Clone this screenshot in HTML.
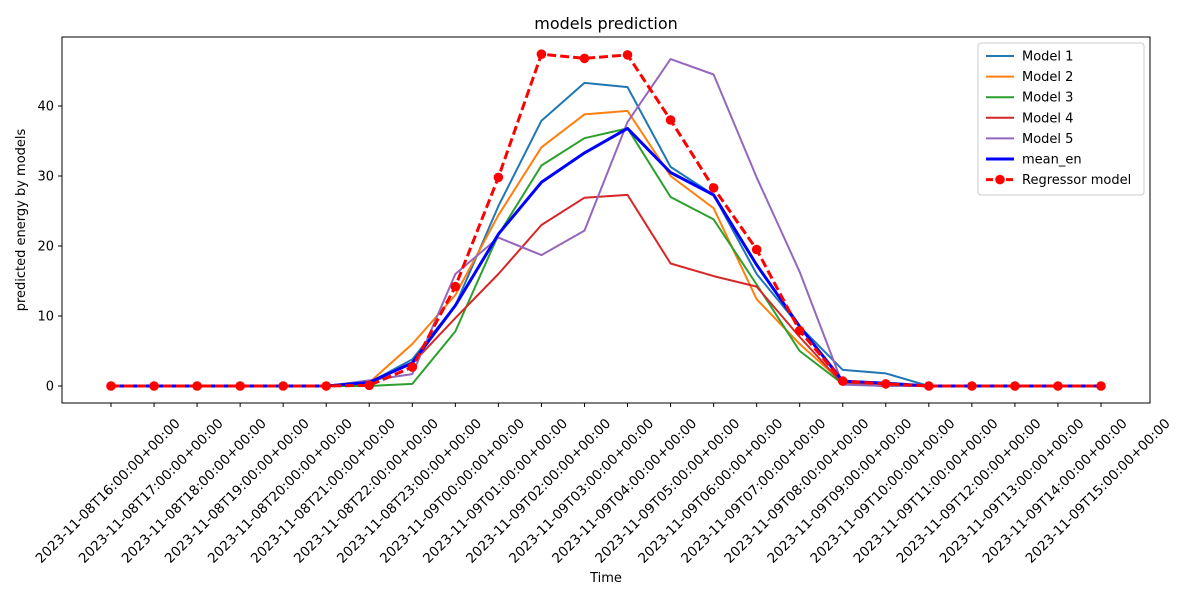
<!DOCTYPE html>
<html><head><meta charset="utf-8"><style>
body{margin:0;background:#fff;}
svg{display:block;font-family:"DejaVu Sans","Liberation Sans",sans-serif;}
</style></head><body>
<svg id="chart" width="1200" height="600" viewBox="0 0 1200 600">
<rect x="0" y="0" width="1200" height="600" fill="#fff"/>
<text x="606" y="29" text-anchor="middle" font-size="16">models prediction</text>
<text x="606" y="582" text-anchor="middle" font-size="13">Time</text>
<text transform="translate(25,220) rotate(-90)" text-anchor="middle" font-size="13">predicted energy by models</text>
<g id="plot"></g>
<rect x="62" y="37" width="1088" height="366" fill="none" stroke="#000" stroke-width="1"/>
<g id="legend"></g>
</svg>
<script>
const categories=["2023-11-08T16:00:00+00:00","2023-11-08T17:00:00+00:00","2023-11-08T18:00:00+00:00","2023-11-08T19:00:00+00:00","2023-11-08T20:00:00+00:00","2023-11-08T21:00:00+00:00","2023-11-08T22:00:00+00:00","2023-11-08T23:00:00+00:00","2023-11-09T00:00:00+00:00","2023-11-09T01:00:00+00:00","2023-11-09T02:00:00+00:00","2023-11-09T03:00:00+00:00","2023-11-09T04:00:00+00:00","2023-11-09T05:00:00+00:00","2023-11-09T06:00:00+00:00","2023-11-09T07:00:00+00:00","2023-11-09T08:00:00+00:00","2023-11-09T09:00:00+00:00","2023-11-09T10:00:00+00:00","2023-11-09T11:00:00+00:00","2023-11-09T12:00:00+00:00","2023-11-09T13:00:00+00:00","2023-11-09T14:00:00+00:00","2023-11-09T15:00:00+00:00"];
const model1=[0,0,0,0,0,0,0.5,3.8,11.5,25.7,37.9,43.3,42.7,31.3,27.3,16.0,8.5,2.3,1.8,0,0,0,0,0];
const model2=[0,0,0,0,0,0,0.5,6.0,13.0,24.4,34.1,38.8,39.3,30.0,25.4,12.4,6.0,0.5,0.2,0,0,0,0,0];
const model3=[0,0,0,0,0,0,0,0.3,7.8,21.6,31.5,35.4,36.8,27.0,23.8,14.5,5.0,0.3,0,0,0,0,0,0];
const model4=[0,0,0,0,0,0,0.5,3.2,9.7,16.0,23.0,26.9,27.3,17.5,15.7,14.2,7.0,0.3,0,0,0,0,0,0];
const model5=[0,0,0,0,0,0,0.8,1.7,16.0,21.2,18.7,22.2,37.7,46.7,44.5,29.8,16.3,0.2,0,0,0,0,0,0];
const meanEn=[0,0,0,0,0,0,0.5,3.3,11.5,21.7,29.1,33.3,36.8,30.5,27.3,17.3,8.5,0.7,0.4,0,0,0,0,0];
const regressor=[0,0,0,0,0,0,0.1,2.7,14.2,29.8,47.4,46.8,47.3,38.0,28.3,19.5,7.9,0.7,0.3,0,0,0,0,0];
const yTicks=[0,10,20,30,40];

const NS="http://www.w3.org/2000/svg";
const plot=document.getElementById('plot');
const legend=document.getElementById('legend');
const xS=i=>111+i*(1101-111)/(categories.length-1);
const yS=v=>386-v*7;
function mk(tag,attrs,parent){const e=document.createElementNS(NS,tag);for(const k in attrs)e.setAttribute(k,attrs[k]);parent.appendChild(e);return e;}

yTicks.forEach(v=>{
  const t=mk('line',{x1:58,x2:62,y1:yS(v),y2:yS(v),stroke:'#000'},plot);
  
  
  const l=mk('text',{x:54,y:yS(v)+4.5,'text-anchor':'end','font-size':13},plot);
  
  
  l.textContent=v;
});
categories.forEach((c,i)=>{
  const x=xS(i);
  const t=mk('line',{x1:x,x2:x,y1:403,y2:407,stroke:'#000'},plot);
  
  
  const l=mk('text',{x:0,y:0,'text-anchor':'middle','font-size':13.5,transform:`translate(${x},${494}) rotate(-45)`},plot);
  
  
  l.textContent=c;
});

const series=[
  {name:'Model 1',data:model1,color:'#1f77b4',w:2},
  {name:'Model 2',data:model2,color:'#ff7f0e',w:2},
  {name:'Model 3',data:model3,color:'#2ca02c',w:2},
  {name:'Model 4',data:model4,color:'#d62728',w:2},
  {name:'Model 5',data:model5,color:'#9467bd',w:2},
  {name:'mean_en',data:meanEn,color:'#0000ff',w:3},
  {name:'Regressor model',data:regressor,color:'#ff0000',w:3,dash:'9,4',marker:true}
];
series.forEach(s=>{
  const pts=s.data.map((v,i)=>xS(i)+','+yS(v)).join(' ');
  const p=mk('polyline',{points:pts,fill:'none',stroke:s.color,'stroke-width':s.w,'stroke-linejoin':'round'},plot);
  if(s.dash)p.setAttribute('stroke-dasharray',s.dash);
  
  
  if(s.marker){s.data.forEach((v,i)=>{
    const c=mk('circle',{cx:xS(i),cy:yS(v),r:4.8,fill:s.color},plot);
    
    
  });}
});

mk('rect',{x:978,y:43,width:166,height:152,rx:3,fill:'#fff','fill-opacity':0.8,stroke:'#ccc'},legend);
series.forEach((s,i)=>{
  const y=56+i*20.6;
  const g=mk('g',{},legend);
  
  
  const l=mk('line',{x1:986,x2:1014,y1:y,y2:y,stroke:s.color,'stroke-width':s.w},g);
  if(s.dash)l.setAttribute('stroke-dasharray','7,3');
  if(s.marker)mk('circle',{cx:1000,cy:y,r:4.8,fill:s.color},g);
  const t=mk('text',{x:1022,y:y+4.5,'font-size':13},g);
  t.textContent=s.name;
});
</script>
</body></html>
